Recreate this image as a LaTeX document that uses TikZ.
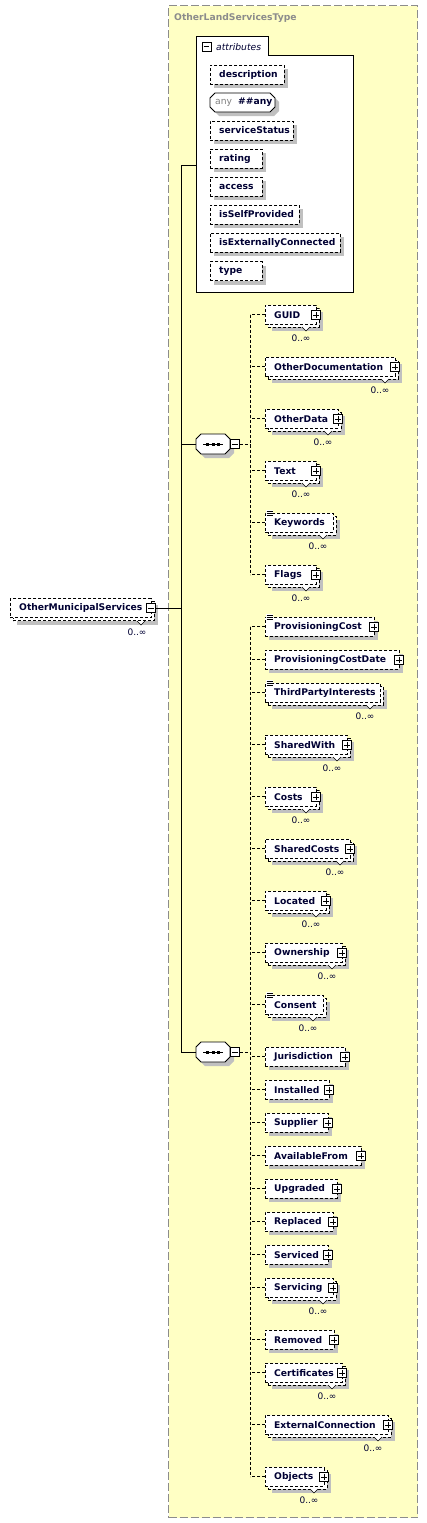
\documentclass[tikz,border=0pt]{standalone}
\usepackage{fontspec}
\setmainfont{DejaVu Sans}
\definecolor{shadowgray}{HTML}{C0C0C0}
\definecolor{typeyellow}{HTML}{FFFFC4}
\definecolor{typeborder}{HTML}{8C8C8C}
\definecolor{textnavy}{HTML}{000033}
\begin{document}
\begin{tikzpicture}[x=1pt,y=-1pt,
  font=\fontsize{9.2}{11}\selectfont,
  conn/.style={line width=0.9pt},
  dconn/.style={line width=0.8pt, dash pattern=on 3pt off 2pt},
  ebox/.style={draw, fill=white, line width=0.8pt, dash pattern=on 3pt off 2pt, inner sep=0pt, minimum height=19pt, anchor=west},
  shadowfill/.style={fill=shadowgray},
  ename/.style={anchor=west, inner sep=0pt, font=\fontsize{9.2}{11}\selectfont\bfseries, text=textnavy},
  multlbl/.style={inner sep=0pt, font=\fontsize{9}{11}\selectfont, text=textnavy},
  pbox/.style={draw, fill=white, line width=0.6pt, minimum size=9pt, inner sep=0pt},
  solidshape/.style={draw, fill=white, line width=0.8pt},
]
\useasboundingbox (0,0) rectangle (427,1523);

% complex type box
\node[draw=typeborder, fill=typeyellow, line width=1pt, dash pattern=on 8pt off 3pt,
      minimum width=249pt, minimum height=1512pt, inner sep=0pt, anchor=north west] (ctype) at (168,5) {};
\node[anchor=west, inner sep=0pt, font=\fontsize{9.2}{11}\selectfont\bfseries, text=typeborder] (ctitle) at (174,18) {OtherLandServicesType};

% attributes box
\draw[fill=white, line width=0.9pt] (196,36) -- (268,36) -- (268,55) -- (353,55) -- (353,292) -- (196,292) -- cycle;
\node[pbox] (m-attr) at (206.5,46.5) {};
\draw[line width=0.6pt] ([xshift=2pt]m-attr.west) -- ([xshift=-2pt]m-attr.east);
\node[anchor=west, inner sep=0pt, font=\fontsize{9.2}{11}\selectfont\itshape, text=textnavy] (attrlbl) at (216,47) {attributes};
\coordinate (attrL) at (196,165);

% attribute entries
\foreach \nm/\lbl/\cy/\R in {desc/description/74.5/284, ss/serviceStatus/130.5/293, rat/rating/158.5/262, acc/access/186.5/262, isp/isSelfProvided/214.5/299, iec/isExternallyConnected/242.5/340, typ/type/271/262}{
  \fill[shadowfill] (214,\cy-5.5) rectangle (\R+4,\cy+13.5);
  \node[ebox, minimum width=(\R-210)*1pt] (a-\nm) at (210,\cy) {};
  \node[ename] (at-\nm) at (219,\cy) {\lbl};
}
% any ##any
\fill[shadowfill] (219,97) -- (274,97) -- (279,102) -- (279,111) -- (274,116) -- (219,116) -- (214,111) -- (214,102) -- cycle;
\draw[solidshape] (215,93) -- (270,93) -- (275,98) -- (275,107) -- (270,112) -- (215,112) -- (210,107) -- (210,98) -- cycle;
\node[anchor=west, inner sep=0pt, text=gray] (anyw) at (215,102.5) {any};
\node[ename] (anyv) at (238,102.5) {\#\#any};

% root element OtherMunicipalServices
\fill[shadowfill] (17,605) rectangle (158,625);
\node[ebox, minimum width=141pt] (oms-b) at (13,611) {};
\node[ebox, minimum width=141pt] (oms) at (10,608) {};
\draw[line width=0.6pt, fill=white] (137,621) -- (141,625) -- (145,621);
\node[pbox] (m-oms) at (151,608) {};
\draw[line width=0.6pt] ([xshift=2pt]m-oms.west) -- ([xshift=-2pt]m-oms.east);
\node[ename] (t-oms) at (19,608) {OtherMunicipalServices};
\node[multlbl] (mult-oms) at (137,632) {0..∞};

% trunk
\coordinate (tr1) at (181,165);
\coordinate (tr2) at (181,1052);
\draw[conn] (tr1) -- (tr2);
\draw[conn] (m-oms.east) -- (m-oms.east -| tr1);
\draw[conn] (tr1) -- (attrL);

% sequences
\foreach \sq/\cy in {seq1/444, seq2/1052}{
  \fill[shadowfill] (205,\cy-6) -- (230,\cy-6) -- (234,\cy-2) -- (234,\cy+9) -- (229,\cy+14) -- (205,\cy+14) -- (200,\cy+9) -- (200,\cy-1) -- cycle;
  \draw[solidshape] (201,\cy-10) -- (225,\cy-10) -- (230,\cy-5) -- (230,\cy+5) -- (225,\cy+10) -- (201,\cy+10) -- (196,\cy+5) -- (196,\cy-5) -- cycle;
  \node[minimum width=34pt, minimum height=20pt, inner sep=0pt] (\sq) at (213,\cy) {};
  \draw[line width=0.8pt] (203,\cy) -- (223,\cy);
  \fill (206,\cy-1.5) rectangle (209,\cy+1.5);
  \fill (211.5,\cy-1.5) rectangle (214.5,\cy+1.5);
  \fill (217,\cy-1.5) rectangle (220,\cy+1.5);
  \node[pbox] (m-\sq) at (235,\cy) {};
  \draw[line width=0.6pt] ([xshift=2pt]m-\sq.west) -- ([xshift=-2pt]m-\sq.east);
  \draw[conn] (\sq.west -| tr1) -- (\sq.west);
}
\coordinate (comb) at (250,0);
\draw[dconn] (m-seq1.east) -- (m-seq1.east -| comb);
\draw[dconn] (m-seq2.east) -- (m-seq2.east -| comb);

% child elements
\foreach \nm/\lbl/\cy/\R/\rp/\pl/\dc in {
 guid/GUID/315/316/1/1/0,
 odoc/OtherDocumentation/367/395/1/1/0,
 odata/OtherData/419/338/1/1/0,
 text/Text/471/316/1/1/0,
 kw/Keywords/523/333/1/0/1,
 flags/Flags/575/316/1/1/0,
 pc/ProvisioningCost/627/374/0/1/1,
 pcd/ProvisioningCostDate/660/399/0/1/0,
 tpi/ThirdPartyInterests/693/380/1/0/1,
 sw/SharedWith/745/347/1/1/0,
 costs/Costs/797/316/1/1/0,
 sc/SharedCosts/849/350/1/1/0,
 loc/Located/901/326/1/1/0,
 own/Ownership/953/342/1/1/0,
 cons/Consent/1005/323/1/0/1,
 jur/Jurisdiction/1057/345/0/1/0,
 inst/Installed/1090/329/0/1/0,
 sup/Supplier/1123/328/0/1/0,
 af/AvailableFrom/1156/361/0/1/0,
 upg/Upgraded/1189/337/0/1/0,
 repl/Replaced/1222/333/0/1/0,
 svd/Serviced/1255/328/0/1/0,
 svg/Servicing/1288/333/1/1/0,
 rem/Removed/1340/334/0/1/0,
 cert/Certificates/1373/342/1/1/0,
 ext/ExternalConnection/1425/388/1/1/0,
 obj/Objects/1477/324/1/1/0}{
  \ifnum\rp=1
    \fill[shadowfill] (272,\cy-3) rectangle (\R+7,\cy+16);
    \node[ebox, minimum width=(\R-265)*1pt] (e-\nm-b) at (268,\cy+2.5) {};
    \node[ebox, minimum width=(\R-265)*1pt] (e-\nm) at (265,\cy-0.5) {};
    \draw[line width=0.6pt, fill=white] (\R-14,\cy+12) -- (\R-10,\cy+16) -- (\R-6,\cy+12);
    \node[multlbl] (mult-\nm) at (\R-15,\cy+23) {0..∞};
  \else
    \fill[shadowfill] (269,\cy-6) rectangle (\R+4,\cy+13);
    \node[ebox, minimum width=(\R-265)*1pt] (e-\nm) at (265,\cy-0.5) {};
  \fi
  \ifnum\pl=1
    \node[pbox] (p-\nm) at (\R,\cy) {};
    \draw[line width=0.6pt] ([xshift=2pt]p-\nm.west) -- ([xshift=-2pt]p-\nm.east)
                            ([yshift=-2pt]p-\nm.north) -- ([yshift=2pt]p-\nm.south);
  \fi
  \ifnum\dc=1
    \fill[white] (266,\cy-13) rectangle (273,\cy-6.5);
    \draw[line width=0.6pt] (266.5,\cy-12) -- (272.5,\cy-12)
                            (266.5,\cy-10) -- (272.5,\cy-10)
                            (266.5,\cy-8) -- (272.5,\cy-8);
  \fi
  \node[ename] (t-\nm) at (274,\cy) {\lbl};
  \draw[dconn] (e-\nm.west) -- (e-\nm.west -| comb);
}
\draw[dconn] (e-guid.west -| comb) -- (e-flags.west -| comb);
\draw[dconn] (e-pc.west -| comb) -- (e-obj.west -| comb);
\end{tikzpicture}
\end{document}
